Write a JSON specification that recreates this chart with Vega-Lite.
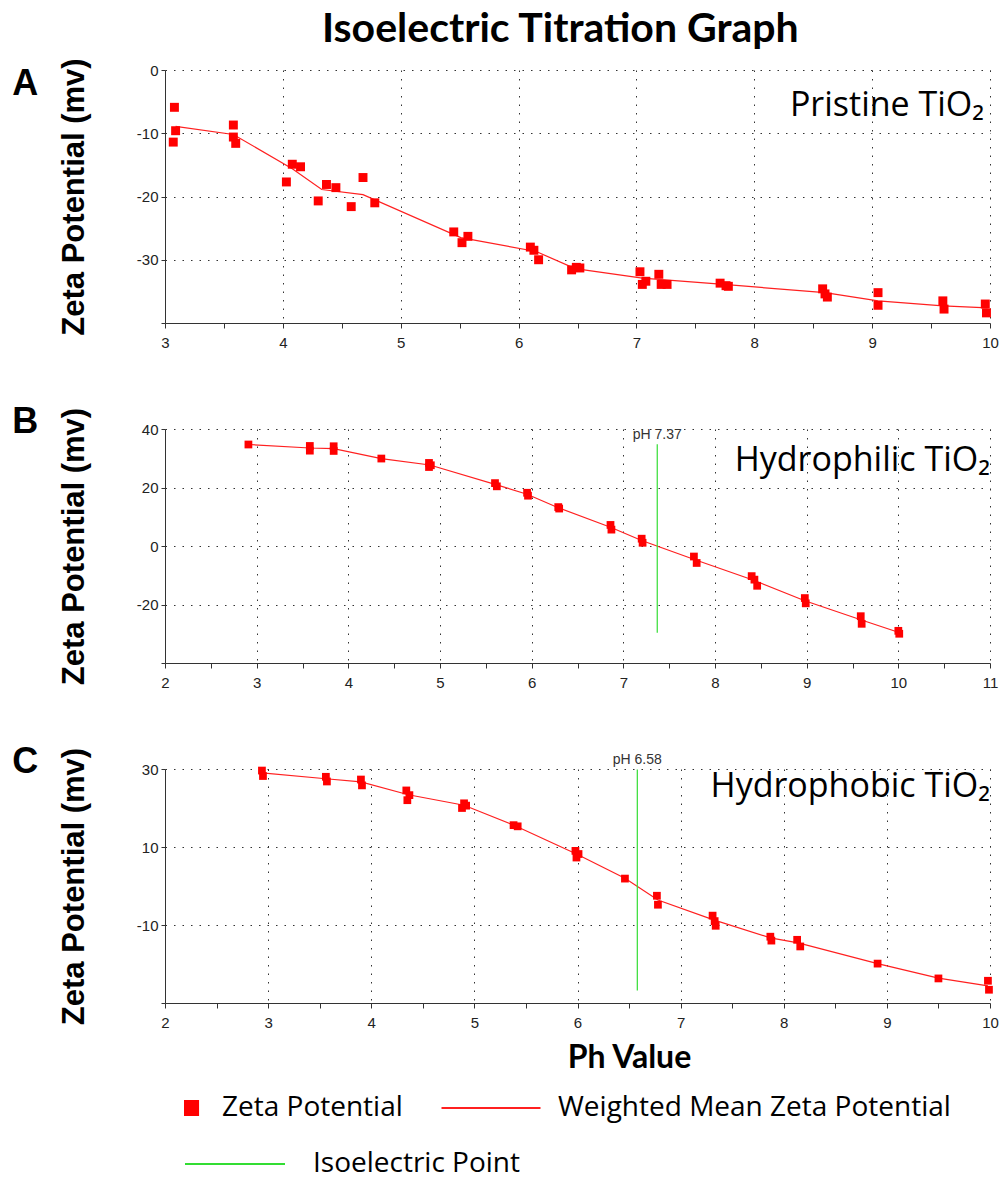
{
  "$schema": "https://vega.github.io/schema/vega-lite/v6.json",
  "padding": {"left": 12, "top": 8, "right": 0, "bottom": 0},
  "title": {"text": "Isoelectric Titration Graph", "font": "Lato", "fontSize": 41, "fontWeight": "bold", "color": "#000", "anchor": "middle", "dx": 55, "offset": 7},
  "spacing": 54,
  "datasets": {
    "points": [
      {"panel": "A", "ph": 3.08, "zeta": -5.9}, {"panel": "A", "ph": 3.09, "zeta": -9.6}, {"panel": "A", "ph": 3.07, "zeta": -11.4},
      {"panel": "A", "ph": 3.58, "zeta": -8.7}, {"panel": "A", "ph": 3.58, "zeta": -10.6}, {"panel": "A", "ph": 3.6, "zeta": -11.6},
      {"panel": "A", "ph": 4.03, "zeta": -17.7}, {"panel": "A", "ph": 4.08, "zeta": -14.9}, {"panel": "A", "ph": 4.15, "zeta": -15.3},
      {"panel": "A", "ph": 4.3, "zeta": -20.7}, {"panel": "A", "ph": 4.37, "zeta": -18.1}, {"panel": "A", "ph": 4.45, "zeta": -18.6},
      {"panel": "A", "ph": 4.58, "zeta": -21.6}, {"panel": "A", "ph": 4.68, "zeta": -17.0}, {"panel": "A", "ph": 4.78, "zeta": -21.0},
      {"panel": "A", "ph": 5.45, "zeta": -25.6}, {"panel": "A", "ph": 5.52, "zeta": -27.3}, {"panel": "A", "ph": 5.57, "zeta": -26.3},
      {"panel": "A", "ph": 6.1, "zeta": -28.0}, {"panel": "A", "ph": 6.13, "zeta": -28.5}, {"panel": "A", "ph": 6.17, "zeta": -30.0},
      {"panel": "A", "ph": 6.45, "zeta": -31.6}, {"panel": "A", "ph": 6.49, "zeta": -31.2}, {"panel": "A", "ph": 6.52, "zeta": -31.3},
      {"panel": "A", "ph": 7.03, "zeta": -31.9}, {"panel": "A", "ph": 7.05, "zeta": -33.9}, {"panel": "A", "ph": 7.08, "zeta": -33.4},
      {"panel": "A", "ph": 7.19, "zeta": -32.3}, {"panel": "A", "ph": 7.21, "zeta": -33.9}, {"panel": "A", "ph": 7.26, "zeta": -33.9},
      {"panel": "A", "ph": 7.71, "zeta": -33.7}, {"panel": "A", "ph": 7.76, "zeta": -34.1}, {"panel": "A", "ph": 7.78, "zeta": -34.2},
      {"panel": "A", "ph": 8.58, "zeta": -34.6}, {"panel": "A", "ph": 8.6, "zeta": -35.4}, {"panel": "A", "ph": 8.62, "zeta": -35.9},
      {"panel": "A", "ph": 9.05, "zeta": -35.2}, {"panel": "A", "ph": 9.05, "zeta": -37.2},
      {"panel": "A", "ph": 9.6, "zeta": -36.5}, {"panel": "A", "ph": 9.61, "zeta": -37.8},
      {"panel": "A", "ph": 9.96, "zeta": -37.0}, {"panel": "A", "ph": 9.97, "zeta": -38.4},

      {"panel": "B", "ph": 2.91, "zeta": 34.7}, {"panel": "B", "ph": 3.58, "zeta": 34.2}, {"panel": "B", "ph": 3.58, "zeta": 32.6},
      {"panel": "B", "ph": 3.84, "zeta": 34.1}, {"panel": "B", "ph": 3.84, "zeta": 32.5}, {"panel": "B", "ph": 4.36, "zeta": 29.9},
      {"panel": "B", "ph": 4.88, "zeta": 28.4}, {"panel": "B", "ph": 4.88, "zeta": 27.0}, {"panel": "B", "ph": 4.9, "zeta": 27.6},
      {"panel": "B", "ph": 5.6, "zeta": 21.5}, {"panel": "B", "ph": 5.62, "zeta": 20.4}, {"panel": "B", "ph": 5.95, "zeta": 18.2},
      {"panel": "B", "ph": 5.96, "zeta": 17.2}, {"panel": "B", "ph": 6.29, "zeta": 13.3}, {"panel": "B", "ph": 6.3, "zeta": 12.8},
      {"panel": "B", "ph": 6.86, "zeta": 7.2}, {"panel": "B", "ph": 6.87, "zeta": 5.6}, {"panel": "B", "ph": 7.2, "zeta": 2.5},
      {"panel": "B", "ph": 7.21, "zeta": 1.1}, {"panel": "B", "ph": 7.77, "zeta": -3.6}, {"panel": "B", "ph": 7.8, "zeta": -5.8},
      {"panel": "B", "ph": 8.4, "zeta": -10.3}, {"panel": "B", "ph": 8.43, "zeta": -11.5}, {"panel": "B", "ph": 8.46, "zeta": -13.6},
      {"panel": "B", "ph": 8.98, "zeta": -17.8}, {"panel": "B", "ph": 8.99, "zeta": -19.6}, {"panel": "B", "ph": 9.59, "zeta": -24.0},
      {"panel": "B", "ph": 9.6, "zeta": -26.6}, {"panel": "B", "ph": 10.0, "zeta": -29.0}, {"panel": "B", "ph": 10.01, "zeta": -30.0},

      {"panel": "C", "ph": 2.94, "zeta": 29.6}, {"panel": "C", "ph": 2.95, "zeta": 28.2}, {"panel": "C", "ph": 3.56, "zeta": 28.0},
      {"panel": "C", "ph": 3.57, "zeta": 26.8}, {"panel": "C", "ph": 3.9, "zeta": 27.3}, {"panel": "C", "ph": 3.91, "zeta": 25.8},
      {"panel": "C", "ph": 4.34, "zeta": 24.5}, {"panel": "C", "ph": 4.35, "zeta": 22.0}, {"panel": "C", "ph": 4.37, "zeta": 23.3},
      {"panel": "C", "ph": 4.88, "zeta": 20.0}, {"panel": "C", "ph": 4.9, "zeta": 21.2}, {"panel": "C", "ph": 4.92, "zeta": 20.6},
      {"panel": "C", "ph": 5.38, "zeta": 15.6}, {"panel": "C", "ph": 5.42, "zeta": 15.3}, {"panel": "C", "ph": 5.98, "zeta": 9.0},
      {"panel": "C", "ph": 5.99, "zeta": 7.3}, {"panel": "C", "ph": 6.01, "zeta": 8.2}, {"panel": "C", "ph": 6.46, "zeta": 1.9},
      {"panel": "C", "ph": 6.77, "zeta": -2.5}, {"panel": "C", "ph": 6.78, "zeta": -4.8}, {"panel": "C", "ph": 7.31, "zeta": -7.6},
      {"panel": "C", "ph": 7.33, "zeta": -9.0}, {"panel": "C", "ph": 7.34, "zeta": -10.2}, {"panel": "C", "ph": 7.87, "zeta": -13.0},
      {"panel": "C", "ph": 7.88, "zeta": -14.0}, {"panel": "C", "ph": 8.13, "zeta": -13.8}, {"panel": "C", "ph": 8.16, "zeta": -15.5},
      {"panel": "C", "ph": 8.91, "zeta": -19.9}, {"panel": "C", "ph": 9.5, "zeta": -23.7}, {"panel": "C", "ph": 9.98, "zeta": -24.3},
      {"panel": "C", "ph": 9.99, "zeta": -26.6}
    ],
    "means": [
      {"panel": "A", "ph": 3.09, "zeta": -8.9}, {"panel": "A", "ph": 3.58, "zeta": -10.2}, {"panel": "A", "ph": 4.08, "zeta": -15.6},
      {"panel": "A", "ph": 4.33, "zeta": -18.9}, {"panel": "A", "ph": 4.68, "zeta": -19.7}, {"panel": "A", "ph": 5.51, "zeta": -26.5},
      {"panel": "A", "ph": 6.15, "zeta": -28.7}, {"panel": "A", "ph": 6.48, "zeta": -31.4}, {"panel": "A", "ph": 7.05, "zeta": -32.9},
      {"panel": "A", "ph": 7.74, "zeta": -33.9}, {"panel": "A", "ph": 8.6, "zeta": -35.2}, {"panel": "A", "ph": 9.05, "zeta": -36.5},
      {"panel": "A", "ph": 9.6, "zeta": -37.3}, {"panel": "A", "ph": 9.98, "zeta": -37.6},

      {"panel": "B", "ph": 2.91, "zeta": 34.7}, {"panel": "B", "ph": 3.58, "zeta": 33.5}, {"panel": "B", "ph": 3.84, "zeta": 33.3},
      {"panel": "B", "ph": 4.36, "zeta": 29.9}, {"panel": "B", "ph": 4.89, "zeta": 27.7}, {"panel": "B", "ph": 5.61, "zeta": 21.0},
      {"panel": "B", "ph": 5.95, "zeta": 17.7}, {"panel": "B", "ph": 6.29, "zeta": 13.1}, {"panel": "B", "ph": 6.86, "zeta": 6.4},
      {"panel": "B", "ph": 7.2, "zeta": 1.9}, {"panel": "B", "ph": 7.79, "zeta": -4.8}, {"panel": "B", "ph": 8.43, "zeta": -11.8},
      {"panel": "B", "ph": 8.98, "zeta": -18.7}, {"panel": "B", "ph": 9.59, "zeta": -25.2}, {"panel": "B", "ph": 10.0, "zeta": -29.5},

      {"panel": "C", "ph": 2.94, "zeta": 29.0}, {"panel": "C", "ph": 3.56, "zeta": 27.5}, {"panel": "C", "ph": 3.9, "zeta": 26.7},
      {"panel": "C", "ph": 4.36, "zeta": 23.4}, {"panel": "C", "ph": 4.9, "zeta": 20.7}, {"panel": "C", "ph": 5.4, "zeta": 15.4},
      {"panel": "C", "ph": 5.99, "zeta": 8.2}, {"panel": "C", "ph": 6.46, "zeta": 2.0}, {"panel": "C", "ph": 6.78, "zeta": -3.6},
      {"panel": "C", "ph": 7.32, "zeta": -8.7}, {"panel": "C", "ph": 7.87, "zeta": -13.3}, {"panel": "C", "ph": 8.14, "zeta": -14.6},
      {"panel": "C", "ph": 8.91, "zeta": -19.9}, {"panel": "C", "ph": 9.5, "zeta": -23.6}, {"panel": "C", "ph": 9.98, "zeta": -25.6}
    ],
    "iep": [
      {"panel": "B", "ph": 7.37, "zmin": -29.7, "zmax": 34.8, "ly": 36.5, "label": "pH 7.37"},
      {"panel": "C", "ph": 6.58, "zmin": -26.8, "zmax": 29.9, "ly": 31.2, "label": "pH 6.58"}
    ],
    "labels": [
      {"panel": "A", "ph": 9.95, "zeta": -7.3, "text": "Pristine TiO₂"},
      {"panel": "B", "ph": 11.0, "zeta": 25.6, "text": "Hydrophilic TiO₂"},
      {"panel": "C", "ph": 10.0, "zeta": 22.7, "text": "Hydrophobic TiO₂"}
    ]
  },
  "vconcat": [
    {
      "width": 825, "height": 253,
      "title": {"text": "A", "orient": "left", "anchor": "end", "angle": 0, "align": "right", "baseline": "top", "offset": -6, "dy": 9, "fontSize": 36, "font": "Liberation Sans", "fontWeight": "bold", "color": "#000"},
      "layer": [
        {
          "data": {"name": "means"}, "transform": [{"filter": "datum.panel === 'A'"}],
          "mark": {"type": "line", "strokeWidth": 1.2},
          "encoding": {
            "x": {"field": "ph", "type": "quantitative", "scale": {"domain": [3, 10], "nice": false, "zero": false},
              "axis": {"title": null, "values": [3, 3.5, 4, 4.5, 5, 5.5, 6, 6.5, 7, 7.5, 8, 8.5, 9, 9.5, 10],
                "labelExpr": "datum.value % 1 === 0 ? toString(datum.value) : ''",
                "gridOpacity": {"condition": {"test": "datum.value % 1 !== 0 || datum.value === 3", "value": 0}, "value": 1}}},
            "y": {"field": "zeta", "type": "quantitative", "scale": {"domain": [-40, 0], "nice": false, "zero": false},
              "axis": {"title": "Zeta Potential (mv)", "values": [-40, -35, -30, -25, -20, -15, -10, -5, 0],
                "labelExpr": "datum.value % 10 === 0 && datum.value > -40 ? toString(datum.value) : ''",
                "gridOpacity": {"condition": {"test": "datum.value % 10 !== 0 || datum.value === -40", "value": 0}, "value": 1}}},
            "color": {"datum": "Weighted Mean Zeta Potential", "type": "nominal",
              "scale": {"domain": ["Zeta Potential", "Weighted Mean Zeta Potential"], "range": ["#ff0000", "#ff2020"]},
              "legend": {"orient": "none", "legendX": 19, "legendY": 1023, "direction": "horizontal", "columns": 2, "title": null,
                "symbolType": "square", "symbolSize": 200, "symbolStrokeWidth": 2, "clipHeight": 30,
                "labelFont": "Open Sans", "labelFontSize": 28, "labelColor": "#000", "labelOffset": 10, "labelLimit": 0,
                "columnPadding": 38,
                "encode": {
                  "symbols": {"update": {
                    "shape": {"signal": "datum.value === 'Zeta Potential' ? 'square' : 'M-7,0H7'"},
                    "x": {"signal": "datum.value === 'Zeta Potential' ? 7 : 50"},
                    "fill": {"signal": "datum.value === 'Zeta Potential' ? '#ff0000' : 'transparent'"},
                    "stroke": {"signal": "datum.value === 'Zeta Potential' ? 'transparent' : '#ff5050'"},
                    "strokeWidth": {"value": 2},
                    "opacity": {"value": 1}
                  }},
                  "labels": {"update": {"dx": {"signal": "datum.value === 'Zeta Potential' ? 0 : 79"}}}
                }}}
          }
        },
        {
          "data": {"name": "points"}, "transform": [{"filter": "datum.panel === 'A'"}],
          "mark": {"type": "square", "size": 80, "opacity": 1},
          "encoding": {
            "x": {"field": "ph", "type": "quantitative"},
            "y": {"field": "zeta", "type": "quantitative"},
            "color": {"datum": "Zeta Potential", "type": "nominal"}
          }
        },
        {
          "data": {"name": "labels"}, "transform": [{"filter": "datum.panel === 'A'"}],
          "mark": {"type": "text", "align": "right", "baseline": "alphabetic", "font": "Open Sans", "fontSize": 34, "color": "#000"},
          "encoding": {
            "x": {"field": "ph", "type": "quantitative"},
            "y": {"field": "zeta", "type": "quantitative"},
            "text": {"field": "text"}
          }
        }
      ]
    },
    {
      "width": 825, "height": 234,
      "title": {"text": "B", "orient": "left", "anchor": "end", "angle": 0, "align": "right", "baseline": "top", "offset": -6, "dy": -2, "fontSize": 36, "font": "Liberation Sans", "fontWeight": "bold", "color": "#000"},
      "layer": [
        {
          "data": {"name": "means"}, "transform": [{"filter": "datum.panel === 'B'"}],
          "mark": {"type": "line", "strokeWidth": 1.2},
          "encoding": {
            "x": {"field": "ph", "type": "quantitative", "scale": {"domain": [2, 11], "nice": false, "zero": false},
              "axis": {"title": null, "values": [2, 2.5, 3, 3.5, 4, 4.5, 5, 5.5, 6, 6.5, 7, 7.5, 8, 8.5, 9, 9.5, 10, 10.5, 11],
                "labelExpr": "datum.value % 1 === 0 ? toString(datum.value) : ''",
                "gridOpacity": {"condition": {"test": "datum.value % 1 !== 0 || datum.value === 2", "value": 0}, "value": 1}}},
            "y": {"field": "zeta", "type": "quantitative", "scale": {"domain": [-40, 40], "nice": false, "zero": false},
              "axis": {"title": "Zeta Potential (mv)", "values": [-40, -30, -20, -10, 0, 10, 20, 30, 40],
                "labelExpr": "datum.value % 20 === 0 && datum.value > -40 ? toString(datum.value) : ''",
                "gridOpacity": {"condition": {"test": "datum.value % 20 !== 0 || datum.value === -40", "value": 0}, "value": 1}}},
            "color": {"datum": "Weighted Mean Zeta Potential", "type": "nominal"}
          }
        },
        {
          "data": {"name": "iep"}, "transform": [{"filter": "datum.panel === 'B'"}],
          "mark": {"type": "rule", "strokeWidth": 1.2},
          "encoding": {
            "x": {"field": "ph", "type": "quantitative"},
            "y": {"field": "zmin", "type": "quantitative"},
            "y2": {"field": "zmax"},
            "stroke": {"datum": "Isoelectric Point", "type": "nominal",
              "scale": {"domain": ["Isoelectric Point"], "range": ["#33dd33"]},
              "legend": {"orient": "none", "legendX": 19, "legendY": 1079, "title": null,
                "symbolType": "stroke", "symbolSize": 10000, "symbolStrokeWidth": 2, "clipHeight": 30,
                "labelFont": "Open Sans", "labelFontSize": 28, "labelColor": "#000", "labelOffset": 27, "labelLimit": 0,
                "encode": {"symbols": {"update": {"stroke": {"value": "#55e855"}, "strokeWidth": {"value": 2}, "opacity": {"value": 1}}}}}}
          }
        },
        {
          "data": {"name": "iep"}, "transform": [{"filter": "datum.panel === 'B'"}],
          "mark": {"type": "text", "align": "center", "baseline": "alphabetic", "font": "Liberation Sans Narrow, Liberation Sans", "fontSize": 14, "color": "#333"},
          "encoding": {
            "x": {"field": "ph", "type": "quantitative"},
            "y": {"field": "ly", "type": "quantitative"},
            "text": {"field": "label"}
          }
        },
        {
          "data": {"name": "points"}, "transform": [{"filter": "datum.panel === 'B'"}],
          "mark": {"type": "square", "size": 60, "opacity": 1},
          "encoding": {
            "x": {"field": "ph", "type": "quantitative"},
            "y": {"field": "zeta", "type": "quantitative"},
            "color": {"datum": "Zeta Potential", "type": "nominal"}
          }
        },
        {
          "data": {"name": "labels"}, "transform": [{"filter": "datum.panel === 'B'"}],
          "mark": {"type": "text", "align": "right", "baseline": "alphabetic", "font": "Open Sans", "fontSize": 34, "color": "#000"},
          "encoding": {
            "x": {"field": "ph", "type": "quantitative"},
            "y": {"field": "zeta", "type": "quantitative"},
            "text": {"field": "text"}
          }
        }
      ]
    },
    {
      "width": 825, "height": 234,
      "title": {"text": "C", "orient": "left", "anchor": "end", "angle": 0, "align": "right", "baseline": "top", "offset": -6, "dy": -2, "fontSize": 36, "font": "Liberation Sans", "fontWeight": "bold", "color": "#000"},
      "layer": [
        {
          "data": {"name": "means"}, "transform": [{"filter": "datum.panel === 'C'"}],
          "mark": {"type": "line", "strokeWidth": 1.2},
          "encoding": {
            "x": {"field": "ph", "type": "quantitative", "scale": {"domain": [2, 10], "nice": false, "zero": false},
              "axis": {"title": "Ph Value", "titleFont": "Lato", "titleFontSize": 32, "titleFontWeight": "bold", "titleX": 464, "titlePadding": 12,
                "values": [2, 2.5, 3, 3.5, 4, 4.5, 5, 5.5, 6, 6.5, 7, 7.5, 8, 8.5, 9, 9.5, 10],
                "labelExpr": "datum.value % 1 === 0 ? toString(datum.value) : ''",
                "gridOpacity": {"condition": {"test": "datum.value % 1 !== 0 || datum.value === 2", "value": 0}, "value": 1}}},
            "y": {"field": "zeta", "type": "quantitative", "scale": {"domain": [-30, 30], "nice": false, "zero": false},
              "axis": {"title": "Zeta Potential (mv)", "values": [-30, -25, -20, -15, -10, -5, 0, 5, 10, 15, 20, 25, 30],
                "labelExpr": "datum.value % 10 === 0 && datum.value > -30 ? toString(datum.value) : ''",
                "gridOpacity": {"condition": {"test": "datum.value % 10 !== 0 || datum.value === -30", "value": 0}, "value": 1}}},
            "color": {"datum": "Weighted Mean Zeta Potential", "type": "nominal"}
          }
        },
        {
          "data": {"name": "iep"}, "transform": [{"filter": "datum.panel === 'C'"}],
          "mark": {"type": "rule", "strokeWidth": 1.2},
          "encoding": {
            "x": {"field": "ph", "type": "quantitative"},
            "y": {"field": "zmin", "type": "quantitative"},
            "y2": {"field": "zmax"},
            "stroke": {"datum": "Isoelectric Point", "type": "nominal"}
          }
        },
        {
          "data": {"name": "iep"}, "transform": [{"filter": "datum.panel === 'C'"}],
          "mark": {"type": "text", "align": "center", "baseline": "alphabetic", "font": "Liberation Sans Narrow, Liberation Sans", "fontSize": 14, "color": "#333"},
          "encoding": {
            "x": {"field": "ph", "type": "quantitative"},
            "y": {"field": "ly", "type": "quantitative"},
            "text": {"field": "label"}
          }
        },
        {
          "data": {"name": "points"}, "transform": [{"filter": "datum.panel === 'C'"}],
          "mark": {"type": "square", "size": 60, "opacity": 1},
          "encoding": {
            "x": {"field": "ph", "type": "quantitative"},
            "y": {"field": "zeta", "type": "quantitative"},
            "color": {"datum": "Zeta Potential", "type": "nominal"}
          }
        },
        {
          "data": {"name": "labels"}, "transform": [{"filter": "datum.panel === 'C'"}],
          "mark": {"type": "text", "align": "right", "baseline": "alphabetic", "font": "Open Sans", "fontSize": 34, "color": "#000"},
          "encoding": {
            "x": {"field": "ph", "type": "quantitative"},
            "y": {"field": "zeta", "type": "quantitative"},
            "text": {"field": "text"}
          }
        }
      ]
    }
  ],
  "config": {
    "view": {"stroke": null},
    "axis": {"labelFont": "Liberation Sans", "labelFontSize": 15, "labelColor": "#222", "domainColor": "#333", "tickColor": "#333",
      "gridColor": "#333", "gridDash": [1.5, 7], "gridWidth": 1, "labelOverlap": false, "labelFlush": false,
      "titleFont": "Liberation Sans", "titleFontWeight": "bold", "titleFontSize": 31, "titleColor": "#000", "tickSize": 5},
    "axisY": {"labelPadding": 3, "titlePadding": 46, "tickSize": 4},
    "axisX": {"labelPadding": 7}
  }
}
